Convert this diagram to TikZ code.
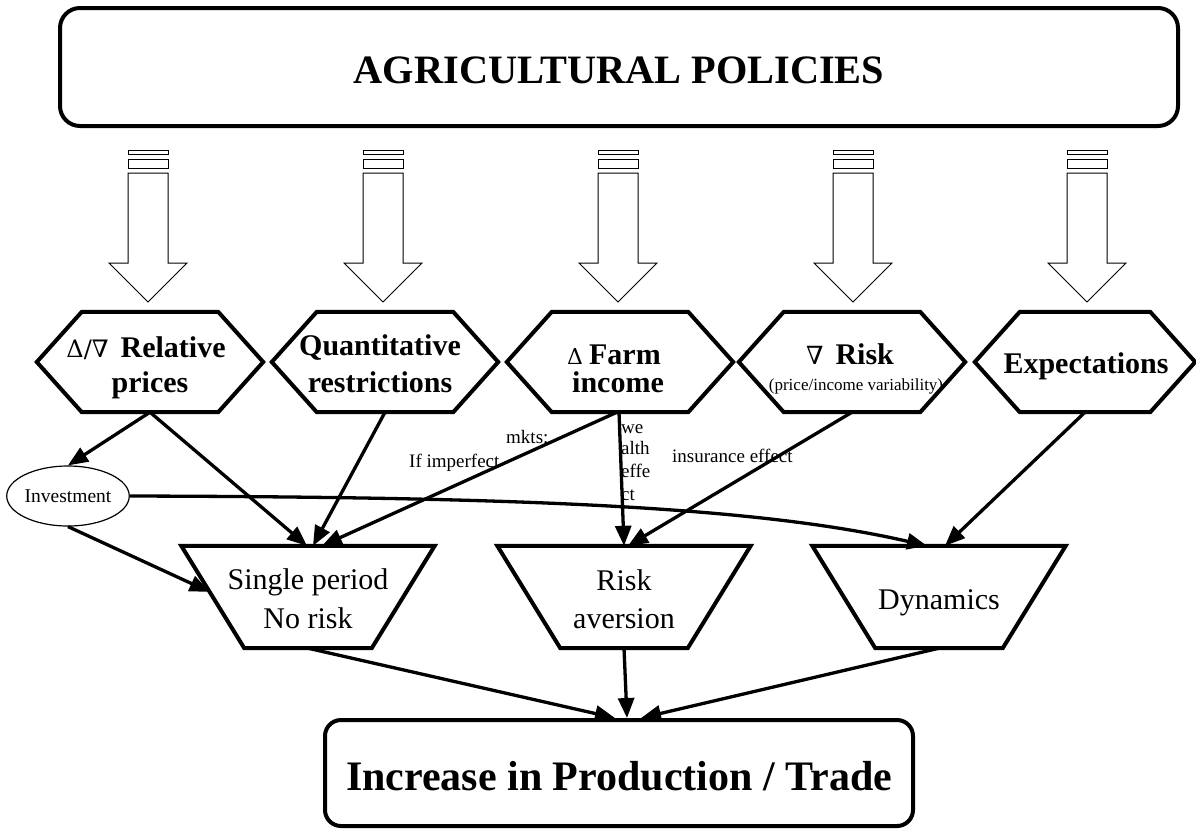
\documentclass[tikz,border=0pt]{standalone}
\usepackage{fontspec}
\setmainfont{Liberation Serif}
\newfontfamily\symf{DejaVu Serif}
\usetikzlibrary{arrows.meta,shapes.geometric,calc}
\begin{document}
\begin{tikzpicture}[x=1pt,y=-1pt,
  bigbox/.style={draw, line width=4pt, rounded corners=20pt, inner sep=0pt, align=center},
  hexbox/.style={minimum width=226pt, minimum height=100pt, inner sep=0pt},
  hexline/.style={line width=4pt, line join=miter},
  trapbox/.style={minimum width=253pt, minimum height=102pt, inner sep=0pt},
  hexfont/.style={font=\fontsize{30}{35}\selectfont\bfseries, inner sep=0pt},
  trapfont/.style={font=\fontsize{30}{35}\selectfont, inner sep=0pt},
  lbl/.style={font=\fontsize{19}{22}\selectfont, inner sep=0pt},
  blockarrow/.style={line width=1pt, fill=white},
  conn/.style={line width=3.3pt, -{Triangle[length=20pt,width=16pt]}}
]
\useasboundingbox (0,0) rectangle (1196,831);

% top and bottom boxes
\node[bigbox, minimum width=1118pt, minimum height=118pt,
  font=\fontsize{40.3}{40}\selectfont\bfseries, text height=32pt, text depth=0pt]
  (top) at (619,67) {AGRICULTURAL POLICIES};
\node[bigbox, rounded corners=16pt, minimum width=588pt, minimum height=106pt,
  font=\fontsize{42}{42}\selectfont\bfseries, text height=34pt, text depth=0pt]
  (bot) at (619,773) {Increase in Production / Trade};

% block arrows from the top box
\foreach \cx in {148,383,618,853,1087}{
  \draw[blockarrow] ({\cx-20},150) rectangle ({\cx+20},154);
  \draw[blockarrow] ({\cx-20},159) rectangle ({\cx+20},168);
  \draw[blockarrow] ({\cx-20},173) -- ({\cx+20},173) -- ({\cx+20},263) -- ({\cx+39},263)
     -- (\cx,302) -- ({\cx-39},263) -- ({\cx-20},263) -- cycle;
}

% hexagons
\newcommand\hexoutline[1]{\draw[hexline] (#1.west) -- ([xshift=45pt]#1.north west)
  -- ([xshift=-45pt]#1.north east) -- (#1.east) -- ([xshift=-45pt]#1.south east)
  -- ([xshift=45pt]#1.south west) -- cycle;}
\node[hexbox] (h1) at (150,362) {};
\node[hexbox] (h2) at (385,362) {};
\node[hexbox] (h3) at (620,362) {};
\node[hexbox] (h4) at (852,362) {};
\node[hexbox, minimum width=220pt] (h5) at (1085,362) {};
\foreach \h in {h1,h2,h3,h4,h5}{\hexoutline{\h}}

\node[hexfont, anchor=base] (h1a) at (146,357) {{\symf\mdseries\fontsize{24}{24}\selectfont Δ/∇}\hspace{12pt}Relative};
\node[hexfont, anchor=base] (h1b) at (150,392) {prices};
\node[hexfont, anchor=base] (h2a) at (380,355) {Quantitative};
\node[hexfont, anchor=base] (h2b) at (380,392) {restrictions};
\node[hexfont, anchor=base] (h3a) at (614,364) {{\symf\mdseries\fontsize{22}{22}\selectfont Δ}\hspace{6pt}Farm};
\node[hexfont, anchor=base] (h3b) at (618,392) {income};
\node[hexfont, anchor=base] (h4a) at (850,364) {{\symf\mdseries\fontsize{25}{25}\selectfont ∇}\hspace{12pt}Risk};
\node[font=\fontsize{17}{17}\selectfont, inner sep=0pt, anchor=base] (h4b) at (856,390) {(price/income variability)};
\node[hexfont, anchor=base] (h5a) at (1086,373) {Expectations};

% trapezoids
\newcommand\trapoutline[1]{\draw[hexline] (#1.north west) -- (#1.north east)
  -- ([xshift=-63pt]#1.south east) -- ([xshift=63pt]#1.south west) -- cycle;}
\node[trapbox] (t1) at (308,597) {};
\node[trapbox] (t2) at (624,597) {};
\node[trapbox] (t3) at (939,597) {};
\foreach \t in {t1,t2,t3}{\trapoutline{\t}}
\node[trapfont, anchor=base] (t1a) at (308,589) {Single period};
\node[trapfont, anchor=base] (t1b) at (308,628) {No risk};
\node[trapfont, anchor=base] (t2a) at (624,590) {Risk};
\node[trapfont, anchor=base] (t2b) at (624,628) {aversion};
\node[trapfont, anchor=base] (t3a) at (939,609) {Dynamics};

% investment ellipse
\node[ellipse, draw, line width=1.2pt, minimum width=122pt, minimum height=60pt,
  inner sep=0pt, font=\fontsize{19.5}{19.5}\selectfont] (inv) at (68,496) {Investment};

% connector labels
\node[lbl, anchor=base west] (l1) at (409,467) {If imperfect};
\node[lbl, anchor=base west] (l2) at (506,443) {mkts:};
\node[lbl, anchor=base west] (w1) at (621,433) {we};
\node[lbl, anchor=base west] (w2) at (621,454) {alth};
\node[lbl, anchor=base west] (w3) at (621,477) {effe};
\node[lbl, anchor=base west] (w4) at (621,500) {ct};
\node[lbl, anchor=base west] (l3) at (672,462) {insurance effect};

% connectors
\coordinate (t1left) at ($([xshift=63pt]t1.south west)!0.55!(t1.north west)$);
\draw[conn] (h1.south) -- (inv.north);
\draw[conn] (h1.south) -- ([xshift=-1pt]t1.north);
\draw[conn] (h2.south) -- ([xshift=5pt]t1.north);
\draw[conn] ([xshift=-3pt]h3.south) -- ([xshift=14pt]t1.north);
\draw[conn] ([xshift=-1pt]h3.south) -- (t2.north);
\draw[conn] (h4.south) -- ([xshift=4pt]t2.north);
\draw[conn] (h5.south) -- ([xshift=6pt]t3.north);
\draw[conn] (inv.east) .. controls (500,497) and (750,505) .. ([xshift=-12pt]t3.north);
\draw[conn] (inv.south) -- (t1left);
\draw[conn] (t1.south) -- ([xshift=-4pt]bot.north);
\draw[conn] (t2.south) -- ([xshift=8pt]bot.north);
\draw[conn] (t3.south) -- ([xshift=22pt]bot.north);
\end{tikzpicture}
\end{document}
